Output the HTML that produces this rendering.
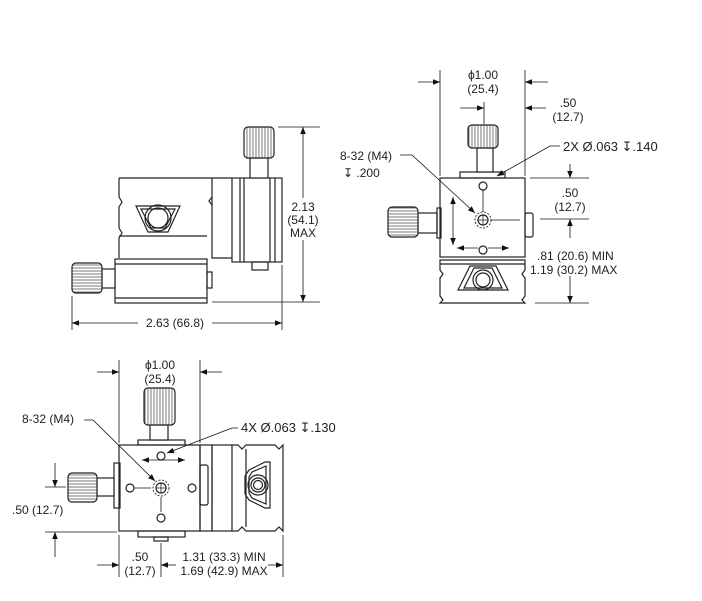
<!DOCTYPE html>
<html><head><style>
html,body{margin:0;padding:0;background:#fff;}
svg{display:block;}
text{font-family:"Liberation Sans",sans-serif;font-size:12px;fill:#222;}
.l{font-size:13px;}
</style></head><body>
<svg width="702" height="601" viewBox="0 0 702 601" xmlns="http://www.w3.org/2000/svg">
<defs>
<marker id="a" viewBox="0 0 10 10" refX="10" refY="5" markerWidth="9" markerHeight="7" orient="auto-start-reverse" markerUnits="userSpaceOnUse"><path d="M0,1 L10,5 L0,9 z" fill="#111"/></marker>
<pattern id="k" width="3" height="4" patternUnits="userSpaceOnUse"><rect width="3" height="4" fill="#fff"/><line x1="1" y1="0" x2="1" y2="4" stroke="#555" stroke-width="0.8"/></pattern>
<pattern id="kh" width="4" height="3" patternUnits="userSpaceOnUse"><rect width="4" height="3" fill="#fff"/><line x1="0" y1="1" x2="4" y2="1" stroke="#555" stroke-width="0.8"/></pattern>
</defs>
<g fill="none" stroke="#222" stroke-width="1.2">
<!-- VIEW 1 -->
<path d="M119,178 H232 M119,178 V197 M212,178 V258 H232" />
<path d="M119,197 l3,5 l-3,5 V228 l3,5 l-3,5 V258 M212,197 l-3,4 l3,4" />
<line x1="119" y1="236" x2="207" y2="236"/>
<polygon points="136,206 180,206 168,232 148,232" />
<polygon points="141,209 175,209 165,228 151,228" />
<circle cx="158" cy="218" r="13"/><circle cx="158" cy="218" r="10"/>
<rect x="232" y="178" width="50" height="84" fill="#fff"/>
<line x1="240" y1="178" x2="240" y2="262"/><line x1="244" y1="178" x2="244" y2="262"/>
<line x1="270" y1="178" x2="270" y2="262"/><line x1="275" y1="178" x2="275" y2="262"/>
<rect x="250" y="158" width="18" height="20" fill="#fff"/>
<rect x="244" y="127" width="30" height="31" rx="4" fill="url(#k)"/>
<rect x="252" y="262" width="16" height="8"/>
<rect x="115" y="259" width="92" height="44" fill="#fff"/>
<line x1="115" y1="264" x2="207" y2="264"/><line x1="115" y1="298" x2="207" y2="298"/>
<rect x="207" y="272" width="5" height="16"/>
<rect x="102" y="269" width="13" height="19" fill="#fff"/>
<rect x="72" y="263" width="30" height="30" rx="4" fill="url(#kh)"/>
</g>
<g stroke="#111" stroke-width="0.8" fill="none">
<line x1="72" y1="296" x2="72" y2="330"/><line x1="282" y1="265" x2="282" y2="330"/>
<line x1="72" y1="323" x2="138" y2="323" marker-start="url(#a)"/><line x1="212" y1="323" x2="282" y2="323" marker-end="url(#a)"/>
<line x1="278" y1="127" x2="320" y2="127"/><line x1="212" y1="302" x2="320" y2="302"/>
<line x1="303" y1="127" x2="303" y2="198" marker-start="url(#a)"/><line x1="303" y1="240" x2="303" y2="302" marker-end="url(#a)"/>
</g>
<text x="175" y="327" text-anchor="middle">2.63 (66.8)</text>
<text x="303" y="211" text-anchor="middle">2.13</text>
<text x="303" y="224" text-anchor="middle">(54.1)</text>
<text x="303" y="237" text-anchor="middle">MAX</text>

<!-- VIEW 2 -->
<g fill="none" stroke="#222" stroke-width="1.2">
<path d="M440,260 H525 V270 l-3,4 l3,4 V296 l-3,4 l3,3 H440 l3,-3 l-3,-4 V278 l3,-4 l-3,-4 Z" fill="#fff"/>
<line x1="440" y1="264" x2="525" y2="264"/>
<polygon points="470,266 458,290 508,290 496,266"/>
<polygon points="474,268 464,288 502,288 492,268"/>
<circle cx="483" cy="280" r="10"/><circle cx="483" cy="280" r="7"/>
<rect x="440" y="178" width="85" height="79" fill="#fff"/>
<rect x="460" y="172" width="45" height="6"/>
<rect x="477" y="148" width="16" height="24" fill="#fff"/>
<rect x="468" y="125" width="30" height="23" rx="4" fill="url(#k)"/>
<rect x="418" y="213" width="19" height="20" fill="#fff"/>
<rect x="437" y="208" width="4" height="30"/>
<rect x="388" y="207" width="30" height="30" rx="4" fill="url(#kh)"/>
<rect x="525" y="213" width="8" height="24" rx="2"/>
<circle cx="483" cy="186" r="4"/><circle cx="483" cy="250" r="4"/>
<circle cx="483" cy="220" r="8" stroke-dasharray="2,1.5" stroke-width="0.9"/>
<circle cx="483" cy="220" r="5"/>
<path d="M478,220 H488 M483,215 V225" stroke-width="0.8"/>
</g>
<g stroke="#111" stroke-width="0.8" fill="none">
<line x1="483" y1="190" x2="483" y2="212"/><line x1="491" y1="220" x2="520" y2="220"/>
<line x1="453" y1="197" x2="453" y2="245" marker-start="url(#a)" marker-end="url(#a)"/>
<line x1="457" y1="248" x2="478" y2="248" marker-start="url(#a)"/><line x1="488" y1="248" x2="509" y2="248" marker-end="url(#a)"/>
<line x1="440" y1="70" x2="440" y2="176"/><line x1="525" y1="70" x2="525" y2="176"/>
<line x1="418" y1="82" x2="440" y2="82" marker-end="url(#a)"/><line x1="548" y1="82" x2="525" y2="82" marker-end="url(#a)"/>
<line x1="460" y1="108" x2="484" y2="108" marker-end="url(#a)"/><line x1="484" y1="102" x2="484" y2="124"/>
<line x1="546" y1="108" x2="525" y2="108" marker-end="url(#a)"/>
<line x1="530" y1="178" x2="589" y2="178"/><line x1="540" y1="219" x2="589" y2="219"/><line x1="535" y1="303" x2="589" y2="303"/>
<line x1="570" y1="164" x2="570" y2="178" marker-end="url(#a)"/>
<line x1="570" y1="238" x2="570" y2="219" marker-end="url(#a)"/>
<line x1="570" y1="276" x2="570" y2="303" marker-end="url(#a)"/>
<path d="M400,155 H412 L475,213" marker-end="url(#a)"/>
<path d="M560,146 H550 L497,176" marker-end="url(#a)"/>
</g>
<text x="483" y="79" text-anchor="middle">ϕ1.00</text>
<text x="483" y="93" text-anchor="middle">(25.4)</text>
<text x="568" y="107" text-anchor="middle">.50</text>
<text x="568" y="121" text-anchor="middle">(12.7)</text>
<text x="570" y="197" text-anchor="middle">.50</text>
<text x="570" y="211" text-anchor="middle">(12.7)</text>
<text x="537" y="260">.81 (20.6) MIN</text>
<text x="530" y="274">1.19 (30.2) MAX</text>
<text x="340" y="160">8-32 (M4)</text>
<text x="343" y="177">↧ .200</text>
<text x="563" y="151" class="l">2X Ø.063 ↧.140</text>

<!-- VIEW 3 -->
<g fill="none" stroke="#222" stroke-width="1.2">
<rect x="119" y="445" width="81" height="86" fill="#fff"/>
<rect x="200" y="445" width="12" height="86"/>
<rect x="212" y="445" width="20" height="86"/>
<path d="M232,445 H238 l4,4 l4,-4 H275 l4,4 l4,-4 V531 l-4,-4 l-4,4 H246 l-4,-4 l-4,4 H232"/>
<line x1="246" y1="449" x2="246" y2="527"/>
<polygon points="249,470 265,462 270,462 270,508 265,508 249,500 245,494 245,476"/>
<polygon points="252,472 266,466 266,504 252,498 249,493 249,477"/>
<circle cx="258" cy="485" r="10"/><circle cx="258" cy="485" r="7"/><circle cx="258" cy="485" r="4.5"/>
<rect x="138" y="440" width="47" height="5"/>
<rect x="150" y="425" width="18" height="15" fill="#fff"/>
<rect x="144" y="388" width="31" height="37" rx="4" fill="url(#k)"/>
<rect x="138" y="531" width="47" height="6"/>
<rect x="154" y="537" width="14" height="4"/>
<rect x="114" y="463" width="6" height="45"/>
<rect x="97" y="478" width="17" height="18" fill="#fff"/>
<rect x="68" y="473" width="29" height="29" rx="4" fill="url(#kh)"/>
<rect x="200" y="465" width="8" height="40" rx="2"/>
<circle cx="130" cy="488" r="4"/><circle cx="192" cy="488" r="4"/>
<circle cx="161" cy="456" r="4"/><circle cx="161" cy="518" r="4"/>
<circle cx="161" cy="488" r="8" stroke-dasharray="2,1.5" stroke-width="0.9"/>
<circle cx="161" cy="488" r="5"/>
<path d="M156,488 H166 M161,483 V493" stroke-width="0.8"/>
</g>
<g stroke="#111" stroke-width="0.8" fill="none">
<line x1="134" y1="488" x2="151" y2="488"/><line x1="161" y1="497" x2="161" y2="512"/>
<line x1="142" y1="460" x2="185" y2="460" marker-start="url(#a)" marker-end="url(#a)"/>
<line x1="119" y1="360" x2="119" y2="443"/><line x1="200" y1="360" x2="200" y2="443"/>
<line x1="97" y1="372" x2="119" y2="372" marker-end="url(#a)"/><line x1="222" y1="372" x2="200" y2="372" marker-end="url(#a)"/>
<line x1="45" y1="487" x2="66" y2="487"/><line x1="45" y1="532" x2="117" y2="532"/>
<line x1="55" y1="463" x2="55" y2="487" marker-end="url(#a)"/>
<line x1="55" y1="557" x2="55" y2="532" marker-end="url(#a)"/>
<line x1="119" y1="535" x2="119" y2="577"/><line x1="161" y1="543" x2="161" y2="577"/><line x1="283" y1="535" x2="283" y2="577"/>
<line x1="97" y1="565" x2="119" y2="565" marker-end="url(#a)"/>
<line x1="176" y1="565" x2="161" y2="565" marker-end="url(#a)"/>
<line x1="268" y1="565" x2="283" y2="565" marker-end="url(#a)"/>
<path d="M84,420 H93 L155,481" marker-end="url(#a)"/>
<path d="M238,428 H232 L167,453" marker-end="url(#a)"/>
</g>
<text x="160" y="369" text-anchor="middle">ϕ1.00</text>
<text x="160" y="383" text-anchor="middle">(25.4)</text>
<text x="12" y="514">.50 (12.7)</text>
<text x="140" y="561" text-anchor="middle">.50</text>
<text x="140" y="575" text-anchor="middle">(12.7)</text>
<text x="224" y="561" text-anchor="middle">1.31 (33.3) MIN</text>
<text x="224" y="575" text-anchor="middle">1.69 (42.9) MAX</text>
<text x="22" y="423">8-32 (M4)</text>
<text x="241" y="432" class="l">4X Ø.063 ↧.130</text>
</svg>
</body></html>
